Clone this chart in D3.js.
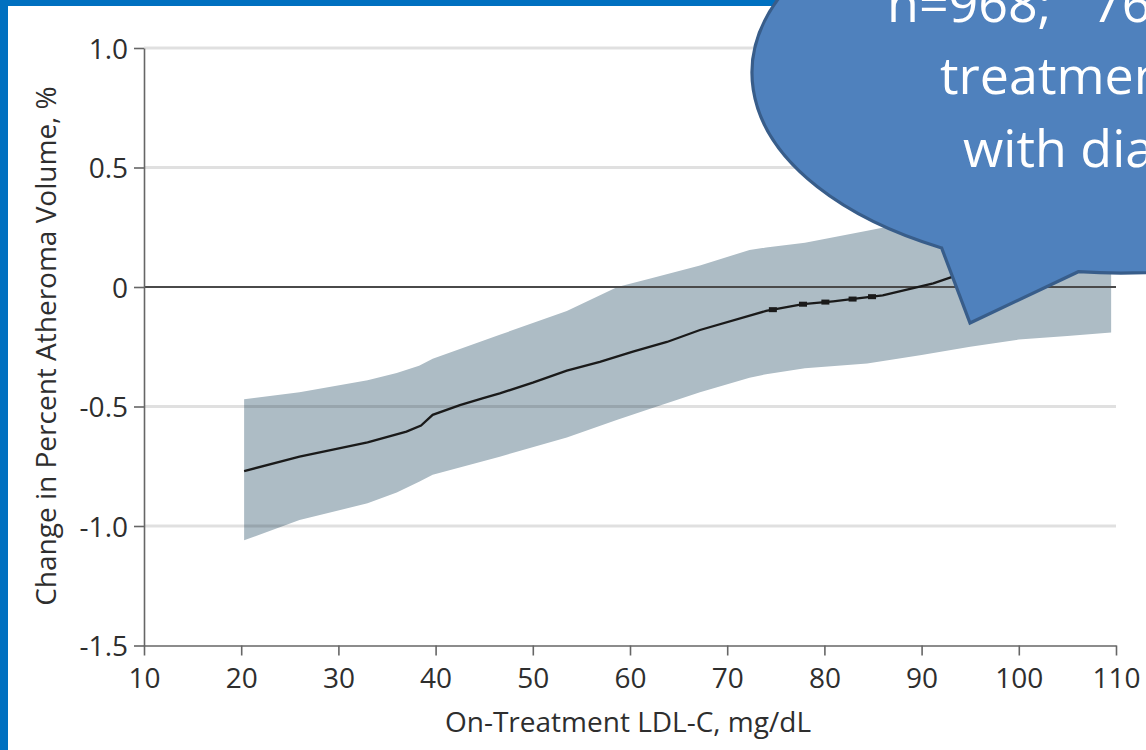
<!DOCTYPE html>
<html>
<head>
<meta charset="utf-8">
<script src="https://cdn.jsdelivr.net/npm/d3@7"></script>
<style>
  body { margin: 0; background: #fff; }
  svg { display: block; }
  .axis text { font-family: "Open Sans", sans-serif; font-size: 28px; fill: #2e2e2e; }
  .axis path, .axis line { stroke: #666; stroke-width: 1.6px; }
  .title { font-family: "Open Sans", sans-serif; font-size: 28px; fill: #2e2e2e; }
  .bubble text { font-family: "Open Sans", sans-serif; font-size: 52px; fill: #fff; white-space: pre; }
</style>
</head>
<body>
<div id="chart"></div>
<script>
// values
var meanX = [20.3, 26, 33, 37, 38.5, 39.7, 42.5, 44.9, 46.6, 50, 53.5, 56.9, 60.3, 63.8, 67.2, 74, 77.8, 80.9, 83, 86, 91.2, 93, 96, 100, 109.5];
var meanY = [-0.77, -0.71, -0.65, -0.605, -0.58, -0.535, -0.494, -0.465, -0.445, -0.40, -0.35, -0.313, -0.27, -0.23, -0.18, -0.10, -0.072, -0.06, -0.05, -0.035, 0.015, 0.04, 0.07, 0.11, 0.2];

var bandX = [20.3, 26, 33, 36, 38.3, 39.7, 46.6, 53.5, 58.7, 62, 67.2, 72.3, 74, 78, 84.4, 90, 95, 100, 105, 109.5];
var bandUpper = [-0.47, -0.44, -0.39, -0.36, -0.33, -0.30, -0.20, -0.10, 0.0, 0.035, 0.09, 0.155, 0.165, 0.185, 0.235, 0.28, 0.31, 0.34, 0.36, 0.38];
var bandLower = [-1.06, -0.975, -0.905, -0.86, -0.815, -0.786, -0.71, -0.63, -0.555, -0.51, -0.44, -0.38, -0.365, -0.34, -0.32, -0.285, -0.25, -0.22, -0.205, -0.19];

// little thick bits sitting on the line
var rugX = [74.7, 77.8, 80.1, 82.9, 84.9];

var xTicks = [10, 20, 30, 40, 50, 60, 70, 80, 90, 100, 110];
var yTicks = [1.0, 0.5, 0, -0.5, -1.0, -1.5];
var yTickLabels = ["1.0", "0.5", "0", "-0.5", "-1.0", "-1.5"];

var xTitle = "On-Treatment LDL-C, mg/dL";
var yTitle = "Change in Percent Atheroma Volume, %";
var bubbleLines = ["n=968;   76", "treatment", "with dia"];

var width = 1146,
    height = 750;

var svg = d3.select("#chart").append("svg")
    .attr("width", width)
    .attr("height", height);

// slide frame, only left and top survive the crop
svg.append("rect").attr("x", 0).attr("y", 0).attr("width", 8).attr("height", height).attr("fill", "#0070c0");
svg.append("rect").attr("x", 0).attr("y", 0).attr("width", width).attr("height", 6).attr("fill", "#0070c0");

var xScale = d3.scaleLinear()
    .domain([10, 110])
    .range([144, 1116]);

var yScale = d3.scaleLinear()
    .domain([-1.5, 1.0])
    .range([645.5, 48]);

var band = bandX.map(function(d, i) {
    return { x: d, lo: bandLower[i], hi: bandUpper[i] };
});
var mean = meanX.map(function(d, i) {
    return { x: d, y: meanY[i] };
});

var area = d3.area()
    .x(function(d) { return xScale(d.x); })
    .y0(function(d) { return yScale(d.lo); })
    .y1(function(d) { return yScale(d.hi); });

svg.append("path")
    .attr("d", area(band))
    .attr("fill", "#adbcc5");

// grid on top of the band, faint
svg.append("g")
    .selectAll("line")
    .data(yTicks.filter(function(d) { return d !== 0 && d !== -1.5; }))
    .enter()
    .append("line")
    .attr("x1", xScale(10))
    .attr("x2", xScale(110))
    .attr("y1", function(d) { return yScale(d); })
    .attr("y2", function(d) { return yScale(d); })
    .attr("stroke", "#000")
    .attr("stroke-opacity", 0.12)
    .attr("stroke-width", 3);

svg.append("line")
    .attr("x1", xScale(10))
    .attr("x2", xScale(110))
    .attr("y1", yScale(0))
    .attr("y2", yScale(0))
    .attr("stroke", "#4a4a4a")
    .attr("stroke-width", 2);

var valueLine = d3.line()
    .x(function(d) { return xScale(d.x); })
    .y(function(d) { return yScale(d.y); });

svg.append("path")
    .attr("d", valueLine(mean))
    .attr("fill", "none")
    .attr("stroke", "#1a1a1a")
    .attr("stroke-width", 2.3);

var bisect = d3.bisector(function(d) { return d.x; }).left;
function meanAt(v) {
    var i = bisect(mean, v);
    var a = mean[i - 1], b = mean[i];
    return a.y + (b.y - a.y) * (v - a.x) / (b.x - a.x);
}

svg.append("g")
    .selectAll("rect")
    .data(rugX)
    .enter()
    .append("rect")
    .attr("x", function(d) { return xScale(d) - 4; })
    .attr("y", function(d) { return yScale(meanAt(d)) - 2.5; })
    .attr("width", 8)
    .attr("height", 5)
    .attr("fill", "#1a1a1a");

// axes
svg.append("g")
    .attr("class", "axis")
    .attr("transform", "translate(" + xScale(10) + ",0)")
    .call(d3.axisLeft(yScale)
        .tickValues(yTicks)
        .tickFormat(function(d, i) { return yTickLabels[i]; })
        .tickSize(10)
        .tickSizeOuter(0)
        .tickPadding(6))
    .selectAll("text")
    .attr("dy", "0.36em");

svg.append("g")
    .attr("class", "axis")
    .attr("transform", "translate(0," + yScale(-1.5) + ")")
    .call(d3.axisBottom(xScale)
        .tickValues(xTicks)
        .tickSize(10)
        .tickSizeOuter(0)
        .tickPadding(13));

svg.append("text")
    .attr("class", "title")
    .attr("x", 628)
    .attr("y", 732)
    .attr("text-anchor", "middle")
    .text(xTitle);

svg.append("text")
    .attr("class", "title")
    .attr("transform", "translate(56," + 346 + ") rotate(-90)")
    .attr("text-anchor", "middle")
    .text(yTitle);

// the callout that sits over the chart
var cx = 1120, cy = 73, rx = 368, ry = 200;
var a1 = 119 * Math.PI / 180, a2 = 96.5 * Math.PI / 180;
var p1 = [cx + rx * Math.cos(a1), cy + ry * Math.sin(a1)];
var p2 = [cx + rx * Math.cos(a2), cy + ry * Math.sin(a2)];
var tip = [970, 323];

var bubble = svg.append("g").attr("class", "bubble");

bubble.append("path")
    .attr("d", "M" + p1 + "L" + tip + "L" + p2 +
        "A" + rx + "," + ry + " 0 1 0 " + p1 + "Z")
    .attr("fill", "#4f81bd")
    .attr("stroke", "#385d8a")
    .attr("stroke-width", 3.2)
    .attr("stroke-linejoin", "miter");

bubble.selectAll("text")
    .data(bubbleLines)
    .enter()
    .append("text")
    .attr("x", function(d, i) { return [887, 940, 963][i]; })
    .attr("y", function(d, i) { return [22, 94, 167][i]; })
    .text(function(d) { return d; });
</script>
</body>
</html>
